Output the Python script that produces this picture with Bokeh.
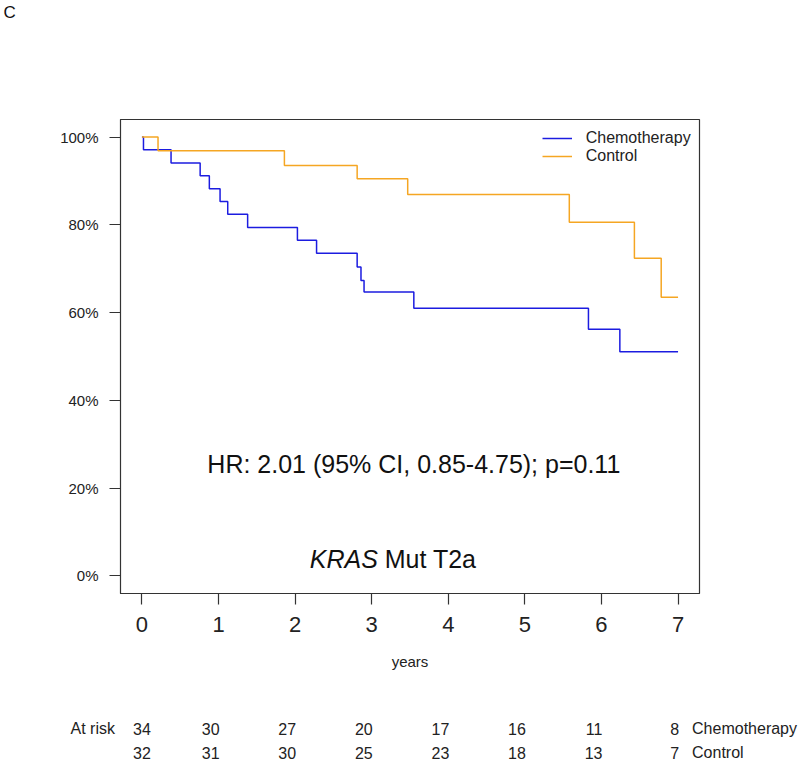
from bokeh.plotting import figure
from bokeh.layouts import column
from bokeh.models import Range1d, FixedTicker, Label, Legend, LegendItem
from bokeh.core.properties import value
from bokeh.embed import file_html
from bokeh.resources import INLINE

# ---- data ----
chemo_time = [0.0, 0.02, 0.38, 0.76, 0.88, 1.02, 1.12, 1.38, 2.03, 2.28, 2.81, 2.86, 2.90, 3.55, 5.83, 6.24, 7.0]
chemo_surv = [100.0, 97.1, 94.1, 91.2, 88.2, 85.3, 82.4, 79.4, 76.5, 73.5, 70.4, 67.3, 64.7, 61.0, 56.2, 51.1, 51.1]
ctrl_time = [0.0, 0.21, 1.86, 2.81, 3.47, 5.58, 6.43, 6.78, 7.0]
ctrl_surv = [100.0, 96.9, 93.5, 90.5, 86.9, 80.6, 72.4, 63.5, 63.5]

x_ticks = [0, 1, 2, 3, 4, 5, 6, 7]
y_ticks = [0, 20, 40, 60, 80, 100]
y_tick_labels = ["0%", "20%", "40%", "60%", "80%", "100%"]

risk_times = [0, 1, 2, 3, 4, 5, 6, 7]
risk_chemo = [34, 30, 27, 20, 17, 16, 11, 8]
risk_ctrl = [32, 31, 30, 25, 23, 18, 13, 7]
group_names = ["Chemotherapy", "Control"]

hr_text = "HR: 2.01 (95% CI, 0.85-4.75); p=0.11"
panel_letter = "C"
x_title = "years"
risk_title = "At risk"

# ---- layout constants ----
FONT = "Liberation Sans"
BLUE = "#1c1ce0"
ORANGE = "#f5a623"
AXC = "#333333"
TXT = "#222222"

W = 800
FRAME_L, FRAME_W = 120, 579
FRAME_R = W - FRAME_L - FRAME_W
X0, X1 = -0.28, 7.28
TOP_H = 30
scale = FRAME_W / (X1 - X0)
full_x0 = X0 - FRAME_L / scale
full_x1 = X1 + FRAME_R / scale

# ---- top strip with the panel letter ----
top = figure(width=W, height=TOP_H, min_border=0,
             min_border_left=0, min_border_right=0, min_border_top=0, min_border_bottom=0,
             x_range=Range1d(full_x0, full_x1), y_range=Range1d(0, TOP_H),
             x_axis_type=None, y_axis_type=None,
             output_backend="svg", toolbar_location=None)
top.frame_align = False
top.outline_line_color = None
top.xgrid.visible = False
top.ygrid.visible = False
top.text(x=[full_x0 + 3 / scale], y=[TOP_H - 2], text=[panel_letter],
         text_align="left", text_baseline="top", text_font=value(FONT),
         text_font_size="17px", text_color="#111111")

# ---- main KM plot ----
p = figure(frame_width=FRAME_W, frame_height=474,
           min_border_left=FRAME_L, min_border_right=FRAME_R,
           min_border_top=119 - TOP_H, min_border_bottom=60,
           x_range=Range1d(X0, X1), y_range=Range1d(-4, 104),
           output_backend="svg", toolbar_location=None)
p.frame_align = False
p.background_fill_color = "white"
p.border_fill_color = "white"
p.outline_line_color = AXC
p.outline_line_width = 1.2
p.xgrid.visible = False
p.ygrid.visible = False

p.xaxis.ticker = FixedTicker(ticks=x_ticks)
p.yaxis.ticker = FixedTicker(ticks=y_ticks)
p.yaxis.major_label_overrides = {t: l for t, l in zip(y_ticks, y_tick_labels)}
for ax in (p.xaxis[0], p.yaxis[0]):
    ax.axis_line_color = AXC
    ax.major_tick_line_color = AXC
    ax.major_tick_line_width = 1.2
    ax.minor_tick_line_color = None
    ax.major_tick_in = 0
    ax.major_tick_out = 11
    ax.major_label_text_font = FONT
    ax.major_label_text_color = TXT
p.xaxis.major_label_text_font_size = "22px"
p.xaxis.major_label_standoff = 12
p.yaxis.major_label_text_font_size = "15px"
p.yaxis.major_label_standoff = 11

r1 = p.step(chemo_time, chemo_surv, mode="after", line_color=BLUE, line_width=1.5)
r2 = p.step(ctrl_time, ctrl_surv, mode="after", line_color=ORANGE, line_width=1.5)

legend = Legend(items=[LegendItem(label=group_names[0], renderers=[r1]),
                       LegendItem(label=group_names[1], renderers=[r2])],
                location=(421.7, 427.7))
legend.border_line_color = None
legend.background_fill_alpha = 0
legend.label_text_font = FONT
legend.label_text_font_size = "16px"
legend.label_text_color = TXT
legend.glyph_width = 30
legend.glyph_height = 18
legend.label_height = 18
legend.label_standoff = 14
legend.padding = 0
legend.margin = 0
legend.spacing = 0
p.add_layout(legend)

p.add_layout(Label(x=3.55, y=25.4, text=hr_text, text_align="center",
                   text_baseline="alphabetic", text_font=FONT,
                   text_font_size="25px", text_color="#111111"))
p.add_layout(Label(x=3.08, y=3.9, text="KRAS", text_align="right",
                   text_baseline="alphabetic", text_font=FONT,
                   text_font_style="italic",
                   text_font_size="25px", text_color="#111111"))
p.add_layout(Label(x=3.17, y=3.9, text="Mut T2a", text_align="left",
                   text_baseline="alphabetic", text_font=FONT,
                   text_font_size="25px", text_color="#111111"))

# ---- strip below: x-axis title and at-risk table ----
p_bottom = TOP_H + (119 - TOP_H) + 474 + 60   # page y where the main figure ends
TOTAL_H = 760
Q_H = TOTAL_H - p_bottom

def ypos(page_y):
    return TOTAL_H - page_y

q = figure(width=W, height=Q_H, min_border=0,
           min_border_left=0, min_border_right=0, min_border_top=0, min_border_bottom=0,
           x_range=Range1d(full_x0, full_x1), y_range=Range1d(0, Q_H),
           x_axis_type=None, y_axis_type=None,
           output_backend="svg", toolbar_location=None)
q.frame_align = False
q.outline_line_color = None
q.xgrid.visible = False
q.ygrid.visible = False

q.text(x=[(X0 + X1) / 2], y=[ypos(661)], text=[x_title],
       text_align="center", text_baseline="middle", text_font=value(FONT),
       text_font_size="15px", text_color=TXT)

row_y = [ypos(728), ypos(752)]
for rows, yy in zip([risk_chemo, risk_ctrl], row_y):
    q.text(x=risk_times[:1], y=[yy], text=[str(v) for v in rows[:1]],
           text_align="center", text_baseline="middle", text_font=value(FONT),
           text_font_size="16px", text_color=TXT)
    q.text(x=risk_times[1:], y=[yy] * (len(rows) - 1), text=[str(v) for v in rows[1:]],
           text_align="right", text_baseline="middle", x_offset=1, text_font=value(FONT),
           text_font_size="16px", text_color=TXT)
q.text(x=[risk_times[-1]] * 2, y=row_y, text=group_names, x_offset=14,
       text_align="left", text_baseline="middle", text_font=value(FONT),
       text_font_size="16px", text_color=TXT)
q.text(x=[risk_times[0]], y=[row_y[0]], text=[risk_title], x_offset=-27,
       text_align="right", text_baseline="middle", text_font=value(FONT),
       text_font_size="16px", text_color=TXT)

layout = column(top, p, q, spacing=0)
open("out.html", "w").write(file_html(layout, INLINE))
